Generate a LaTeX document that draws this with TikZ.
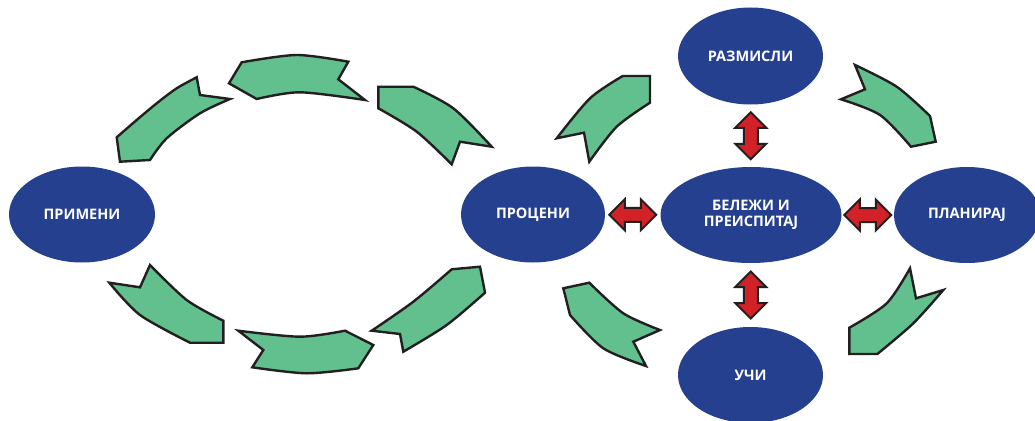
\documentclass[tikz,border=0pt]{standalone}
\usepackage{fontspec}
\setmainfont{Open Sans}
\usetikzlibrary{calc,shapes.geometric}
\definecolor{blu}{RGB}{37,64,143}
\definecolor{grn}{RGB}{98,192,142}
\definecolor{rd}{RGB}{211,33,40}
\definecolor{ink}{RGB}{35,31,32}
\tikzset{
  pics/dblv/.style={code={
    \draw[rdarrow] (0,-23.5) -- (15.5,-8) -- (7,-8) -- (7,8) -- (15.5,8) -- (0,23.5)
      -- (-15.5,8) -- (-7,8) -- (-7,-8) -- (-15.5,-8) -- cycle;}}
}
\begin{document}
\begin{tikzpicture}[x=1pt,y=-1pt,
  ell/.style={ellipse, fill=blu, text=white, font=\bfseries\fontsize{14.5}{16}\selectfont,
    minimum width=146pt, minimum height=96pt, inner sep=0pt},
  gr/.style={fill=grn, draw=ink, line width=2.4pt, line join=miter},
  rdarrow/.style={fill=rd, draw=ink, line width=2pt, line join=miter}]
\clip (0,0) rectangle (1035,420);
\fill[white] (0,0) rectangle (1035,420);

% nodes
\node[ell] (primeni) at (82,214.5) {ПРИМЕНИ};
\node[ell, minimum width=144pt] (proceni) at (533,214.5) {ПРОЦЕНИ};
\node[ell, minimum width=145pt, minimum height=97pt] (razmisli) at (750.5,56) {РАЗМИСЛИ};
\node[ell, minimum width=181pt, align=center] (belezi) at (751,215) {БЕЛЕЖИ И\\ПРЕИСПИТАЈ};
\node[ell] (planiraj) at (967,215) {ПЛАНИРАЈ};
\node[ell, minimum width=145pt] (uci) at (750.5,375) {УЧИ};

% red double arrows
\pic at ($(razmisli.south)!0.5!(belezi.north)$) {dblv};
\pic at ($(belezi.south)!0.5!(uci.north)$) {dblv};
\pic[rotate=90] at ($(proceni.east)!0.5!(belezi.west)$) {dblv};
\pic[rotate=90] at ($(belezi.east)!0.5!(planiraj.west)$) {dblv};

% left cycle: green arrows
\draw[gr] (196.7,77.3) -- (200,95) -- (230,99)
  -- plot[smooth] coordinates {(230,99) (200,113.3) (166.7,138.3) (150,160)}
  -- (120,161.7) -- (116.7,137.3)
  -- plot[smooth] coordinates {(116.7,137.3) (136.7,120) (156.7,103.3) (176.7,88.3) (196.7,77.3)}
  -- cycle;
\draw[gr] (241.7,62.3)
  -- plot[smooth] coordinates {(241.7,62.3) (296.7,55) (348.3,61.7)}
  -- (338.3,79.3) -- (365,100)
  -- plot[smooth] coordinates {(365,100) (300,92.3) (256.7,99)}
  -- (229,83.3) -- cycle;
\draw[gr] (378.3,86.7) -- (413.3,86.7)
  -- plot[smooth] coordinates {(413.3,86.7) (453.3,108.3) (491.7,146.7)}
  -- (460,141.7) -- (451.7,164.3)
  -- plot[smooth] coordinates {(451.7,164.3) (416.7,131.7) (378.3,108.3)}
  -- cycle;
\draw[gr] (150,265) -- (140,287.3) -- (109.3,282.7)
  -- plot[smooth] coordinates {(109.3,282.7) (140,315) (190,342.7)}
  -- (223.3,342.7) -- (223.3,320.7)
  -- plot[smooth] coordinates {(223.3,320.7) (186.7,300) (150,265)}
  -- cycle;
\draw[gr] (238.3,330.7)
  -- plot[smooth] coordinates {(238.3,330.7) (300,336.7) (345,330.7)}
  -- (373.3,345) -- (358.3,368.3)
  -- plot[smooth] coordinates {(358.3,368.3) (306.7,373.3) (252.3,367.3)}
  -- (263.3,350) -- cycle;
\draw[gr] (371.7,330.7) -- (400,334) -- (403.3,351.7)
  -- plot[smooth] coordinates {(403.3,351.7) (446.7,325) (485,292.7)}
  -- (480,266.7) -- (451.7,269.3)
  -- plot[smooth] coordinates {(451.7,269.3) (413.3,301.7) (371.7,330.7)}
  -- cycle;

% right cycle: green arrows
\draw[gr] (650,76) -- (622.7,76)
  -- plot[smooth] coordinates {(622.7,76) (590,98.3) (556.7,138.3)}
  -- (584,132.7) -- (589.3,161.7)
  -- plot[smooth] coordinates {(589.3,161.7) (616.7,126.7) (650,102.7)}
  -- cycle;
\draw[gr] (855,65) -- (865,89.3) -- (841,99.3)
  -- plot[smooth] coordinates {(841,99.3) (880,115) (911,146.7)}
  -- (935.7,141.7) -- (930,116)
  -- plot[smooth] coordinates {(930,116) (896.7,86.7) (855,65)}
  -- cycle;
\draw[gr] (563.3,288.3) -- (589.3,282.7)
  -- plot[smooth] coordinates {(589.3,282.7) (623.3,313.3) (660,330)}
  -- (633.3,341.7) -- (646,366)
  -- plot[smooth] coordinates {(646,366) (603.3,348.3) (570,315)}
  -- cycle;
\draw[gr] (910,268.3) -- (916,298.3) -- (943.3,290)
  -- plot[smooth] coordinates {(943.3,290) (913.3,323.3) (877.3,354)}
  -- (849.3,354) -- (849.3,327.7)
  -- plot[smooth] coordinates {(849.3,327.7) (886.7,303.3) (910,268.3)}
  -- cycle;
\end{tikzpicture}
\end{document}
